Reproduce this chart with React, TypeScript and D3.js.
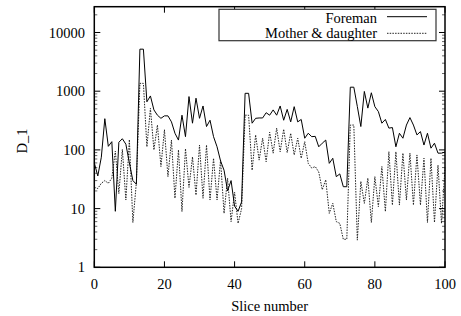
import * as d3 from 'd3';

const foreman = [
  60, 36, 75, 340, 115, 138, 9, 135, 155, 125,
  60, 30, 26, 5200, 5200, 660, 830, 480, 390, 345,
  380, 380, 300, 192, 147, 390, 168, 810, 285, 760,
  345, 560, 250, 320, 168, 113, 65, 45, 20, 30,
  11, 9, 13, 920, 920, 285, 345, 350, 350, 430,
  390, 480, 390, 560, 320, 490, 300, 545, 300, 330,
  158, 192, 168, 170, 113, 130, 147, 59, 72, 35,
  39, 23.6, 23.6, 1170, 1170, 550, 250, 990, 515, 940,
  545, 450, 285, 330, 235, 240, 113, 192, 158, 265,
  355, 265, 180, 205, 121, 192, 107, 130, 88, 88,
  92,
];

const motherDaughter = [
  23, 22, 27, 30, 27, 33, 95, 18, 102, 14,
  150, 5.8, 28, 1360, 1360, 113, 510, 100, 265, 52,
  220, 35, 147, 15, 100, 8.9, 105, 23, 76, 17,
  121, 15, 121, 14, 72, 14, 67, 8.3, 33, 6,
  19, 5.6, 10, 390, 390, 45, 180, 67, 158, 63,
  200, 88, 235, 93, 225, 90, 192, 82, 158, 72,
  138, 59, 49, 52, 42, 21, 31, 8.3, 12.3, 6,
  5.6, 3, 3, 265, 265, 2.9, 29, 12.3, 33, 5.8,
  35, 10.8, 52, 8.9, 93, 11.5, 93, 11.5, 88, 14,
  88, 11.5, 82, 11.5, 72, 5.8, 72, 5.8, 55, 5.6,
  50,
];

const xTicks = [0, 20, 40, 60, 80, 100];
const yTicks = [1, 10, 100, 1000, 10000];
const seriesNames = ['Foreman', 'Mother & daughter'];

const W = 461;
const H = 316;
const left = 94.3;
const right = 445;
const top = 6.7;
const bottom = 267.3;
const txt = {
  fontFamily: "'Liberation Serif', 'Times New Roman', Times, 'DejaVu Serif', serif",
  fontSize: '14.5px',
};

export default function App() {
  const x = d3.scaleLinear().domain([0, 100]).range([left, right]);
  const y = d3.scaleLog().domain([1, 27500]).range([bottom, top]);

  const line = d3
    .line<number>()
    .x((_, i) => x(i))
    .y((d) => y(d));

  // minor log ticks 2..9 in each decade
  const minor: number[] = [];
  for (let p = 0; p < 5; p++) {
    for (let m = 2; m <= 9; m++) {
      const v = m * Math.pow(10, p);
      if (v < 27500) minor.push(v);
    }
  }

  return (
    <svg width={W} height={H} style={{ position: 'absolute', left: 0, top: 0, background: '#fff' }}>
      <rect x={0} y={0} width={W} height={H} fill="#fff" />

      {/* series */}
      <path d={line(motherDaughter) ?? ''} fill="none" stroke="#222" strokeWidth={1} strokeDasharray="1.5,1.2" />
      <path d={line(foreman) ?? ''} fill="none" stroke="#000" strokeWidth={1} />

      {/* ticks */}
      {yTicks.map((t) => (
        <g key={'y' + t}>
          <line x1={left} x2={left + 6} y1={y(t)} y2={y(t)} stroke="#000" />
          <line x1={right} x2={right - 6} y1={y(t)} y2={y(t)} stroke="#000" />
          <text x={85} y={y(t)} dy="0.35em" textAnchor="end" style={txt}>
            {t}
          </text>
        </g>
      ))}
      {minor.map((t) => (
        <g key={'m' + t}>
          <line x1={left} x2={left + 3} y1={y(t)} y2={y(t)} stroke="#000" strokeWidth={0.6} />
          <line x1={right} x2={right - 3} y1={y(t)} y2={y(t)} stroke="#000" strokeWidth={0.6} />
        </g>
      ))}
      {xTicks.map((t) => (
        <g key={'x' + t}>
          <line x1={x(t)} x2={x(t)} y1={bottom} y2={bottom - 6} stroke="#000" />
          <line x1={x(t)} x2={x(t)} y1={top} y2={top + 6} stroke="#000" />
          <text x={x(t)} y={289} textAnchor="middle" style={txt}>
            {t}
          </text>
        </g>
      ))}

      {/* frame */}
      <rect x={left} y={top} width={right - left} height={bottom - top} fill="none" stroke="#000" strokeWidth={1.5} />

      {/* axis titles */}
      <text x={(left + right) / 2} y={311} textAnchor="middle" style={txt}>
        Slice number
      </text>
      <text transform={`translate(27,141) rotate(-90)`} textAnchor="middle" style={txt}>
        D_1
      </text>

      {/* legend */}
      <rect x={219} y={9.3} width={217} height={31.4} fill="#fff" stroke="#333" strokeWidth={1.2} />
      <text x={377} y={17.5} dy="0.35em" textAnchor="end" style={txt}>
        {seriesNames[0]}
      </text>
      <line x1={387} x2={427} y1={16.7} y2={16.7} stroke="#000" />
      <text x={377} y={33} dy="0.35em" textAnchor="end" style={txt}>
        {seriesNames[1]}
      </text>
      <line x1={387} x2={427} y1={33.3} y2={33.3} stroke="#222" strokeDasharray="1.5,1.2" />
    </svg>
  );
}
